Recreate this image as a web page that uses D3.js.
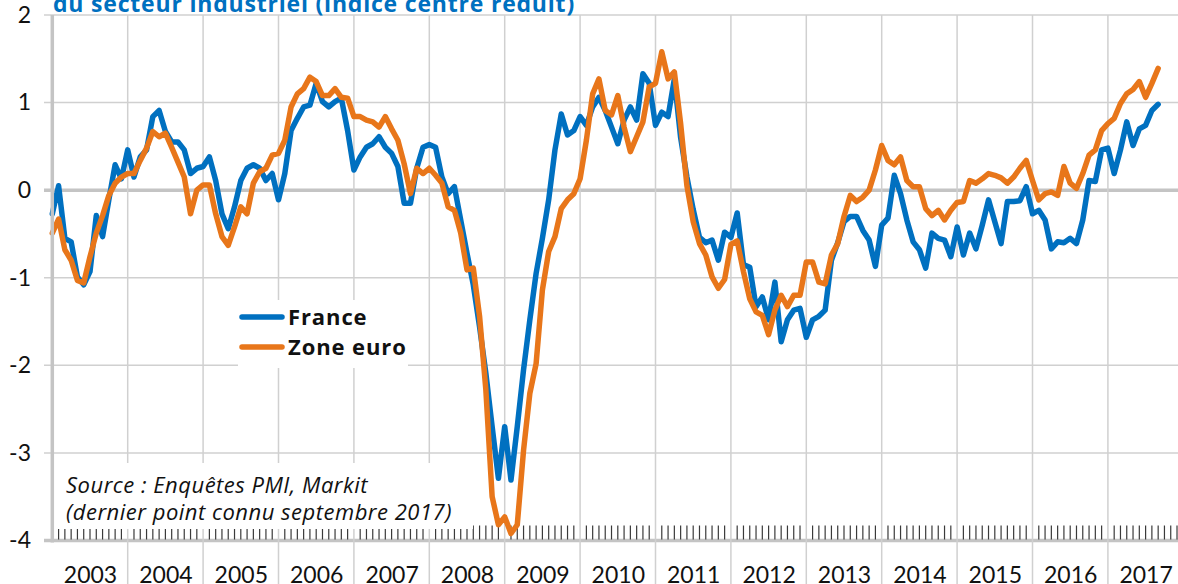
<!DOCTYPE html>
<html>
<head>
<meta charset="utf-8">
<script src="https://cdn.jsdelivr.net/npm/d3@7"></script>
<style>
body { margin: 0; background: #fff; }
svg { display: block; }
</style>
</head>
<body>
<div id="chart"></div>
<script>
// monthly values, janvier 2003 -> septembre 2017
var france = [
  -0.27, 0.05, -0.55, -0.59, -0.99, -1.08, -0.93, -0.29, -0.53, -0.11, 0.29, 0.13,
  0.46, 0.15, 0.38, 0.46, 0.84, 0.91, 0.67, 0.55, 0.55, 0.46, 0.19, 0.25,
  0.27, 0.38, 0.11, -0.27, -0.44, -0.19, 0.11, 0.25, 0.29, 0.25, 0.11, 0.19,
  -0.11, 0.19, 0.68, 0.82, 0.95, 0.97, 1.22, 1.01, 0.95, 1.01, 1.05, 0.68,
  0.23, 0.38, 0.49, 0.53, 0.61, 0.49, 0.42, 0.27, -0.15, -0.15, 0.25, 0.49,
  0.52, 0.49, 0.15, -0.04, 0.04, -0.34, -0.72, -1.08, -1.56, -2.09, -2.70, -3.29,
  -2.70, -3.31, -2.70, -2.05, -1.48, -0.95, -0.55, -0.11, 0.46, 0.87, 0.63, 0.68,
  0.84, 0.74, 0.95, 1.06, 0.91, 0.72, 0.53, 0.80, 0.95, 0.80, 1.33, 1.22,
  0.74, 0.89, 0.84, 1.27, 0.60, 0.15, -0.22, -0.54, -0.60, -0.57, -0.80, -0.48,
  -0.54, -0.26, -0.85, -0.88, -1.33, -1.22, -1.48, -1.05, -1.73, -1.48, -1.37, -1.35,
  -1.68, -1.48, -1.44, -1.37, -0.80, -0.60, -0.36, -0.30, -0.30, -0.46, -0.57, -0.87,
  -0.40, -0.32, 0.17, -0.04, -0.34, -0.59, -0.68, -0.89, -0.49, -0.55, -0.57, -0.76,
  -0.42, -0.74, -0.49, -0.67, -0.40, -0.11, -0.36, -0.61, -0.13, -0.13, -0.12, 0.04,
  -0.27, -0.23, -0.34, -0.67, -0.59, -0.60, -0.55, -0.61, -0.34, 0.11, 0.10, 0.46,
  0.48, 0.19, 0.46, 0.78, 0.51, 0.70, 0.74, 0.91, 0.98
];
var zoneEuro = [
  -0.49, -0.33, -0.68, -0.80, -1.03, -1.06, -0.76, -0.49, -0.29, -0.06, 0.08, 0.15,
  0.19, 0.19, 0.34, 0.48, 0.67, 0.61, 0.65, 0.49, 0.32, 0.15, -0.27, 0.00,
  0.06, 0.06, -0.27, -0.53, -0.63, -0.42, -0.19, -0.27, 0.08, 0.21, 0.25, 0.40,
  0.42, 0.57, 0.95, 1.10, 1.16, 1.29, 1.24, 1.08, 1.08, 1.16, 1.06, 1.05,
  0.84, 0.84, 0.80, 0.78, 0.72, 0.84, 0.70, 0.57, 0.30, -0.04, 0.25, 0.19,
  0.25, 0.17, 0.08, -0.19, -0.23, -0.49, -0.91, -0.89, -1.44, -2.28, -3.50, -3.82,
  -3.73, -3.92, -3.82, -2.97, -2.32, -1.98, -1.14, -0.70, -0.53, -0.21, -0.11, -0.04,
  0.13, 0.57, 1.10, 1.27, 0.91, 0.86, 1.08, 0.72, 0.44, 0.61, 0.78, 1.18,
  1.22, 1.58, 1.27, 1.35, 0.76, 0.05, -0.36, -0.61, -0.74, -0.99, -1.12, -1.02,
  -0.62, -0.58, -0.93, -1.24, -1.39, -1.43, -1.65, -1.37, -1.20, -1.33, -1.20, -1.20,
  -0.82, -0.82, -1.05, -1.07, -0.74, -0.61, -0.30, -0.06, -0.13, -0.08, 0.00, 0.23,
  0.51, 0.34, 0.29, 0.38, 0.11, 0.04, 0.04, -0.21, -0.29, -0.23, -0.34, -0.23,
  -0.14, -0.13, 0.11, 0.08, 0.13, 0.19, 0.17, 0.14, 0.08, 0.15, 0.25, 0.34,
  0.11, -0.11, -0.04, -0.02, -0.06, 0.27, 0.08, 0.02, 0.19, 0.40, 0.46, 0.68,
  0.76, 0.82, 0.99, 1.10, 1.15, 1.24, 1.06, 1.22, 1.39
];
var years = ["2003", "2004", "2005", "2006", "2007", "2008", "2009", "2010",
  "2011", "2012", "2013", "2014", "2015", "2016", "2017"];
var yTicks = [-4, -3, -2, -1, 0, 1, 2];

var width = 1178, height = 584;
var blue = "#0070c0", orange = "#e8761a";
var font = "Lato, 'Open Sans', sans-serif";
var font2 = "'Open Sans', Lato, sans-serif";

var svg = d3.select("#chart").append("svg")
  .attr("width", width)
  .attr("height", height);

var nMonths = years.length * 12;
var x = d3.scaleLinear().domain([0, nMonths]).range([52.3, 1183.3]);
var y = d3.scaleLinear().domain([-4, 2]).range([540.5, 15]);

// grille horizontale
svg.append("g").selectAll("line")
  .data(yTicks)
  .enter().append("line")
  .attr("x1", 44).attr("x2", width)
  .attr("y1", function(d) { return y(d); })
  .attr("y2", function(d) { return y(d); })
  .attr("stroke", function(d) { return (d == 0 || d == -4) ? "#c4c4c4" : "#d0d0d0"; })
  .attr("stroke-width", function(d) { return (d == 0 || d == -4) ? 3.5 : 1.5; });

// grille verticale (limites d'annees)
svg.append("g").selectAll("line")
  .data(d3.range(1, years.length + 1))
  .enter().append("line")
  .attr("x1", function(d) { return x(d * 12); })
  .attr("x2", function(d) { return x(d * 12); })
  .attr("y1", y(2)).attr("y2", height)
  .attr("stroke", "#d0d0d0")
  .attr("stroke-width", 1.5);

// petites graduations mensuelles
svg.append("g").selectAll("line")
  .data(d3.range(1, nMonths).filter(function(i) { return i % 12 != 0; }))
  .enter().append("line")
  .attr("x1", function(d) { return x(d); })
  .attr("x2", function(d) { return x(d); })
  .attr("y1", y(-4) - 15).attr("y2", y(-4) - 1)
  .attr("stroke", "#3a3a3a")
  .attr("stroke-width", 1.2);

// series
var line = d3.line()
  .x(function(d, i) { return x(i); })
  .y(function(d) { return y(d); });

[[france, blue], [zoneEuro, orange]].forEach(function(s) {
  svg.append("path")
    .datum(s[0])
    .attr("d", line)
    .attr("fill", "none")
    .attr("stroke", s[1])
    .attr("stroke-width", 5.5)
    .attr("stroke-linejoin", "round")
    .attr("stroke-linecap", "round");
});

// axe vertical
svg.append("line")
  .attr("x1", x(0)).attr("x2", x(0))
  .attr("y1", y(2)).attr("y2", y(-4) + 2)
  .attr("stroke", "#c4c4c4")
  .attr("stroke-width", 3.5);

var yAxis = svg.append("g")
  .attr("transform", "translate(31,0)")
  .call(d3.axisLeft(y).tickValues(yTicks).tickSize(0).tickPadding(0)
    .tickFormat(function(d) { return String(d); }));
yAxis.select(".domain").remove();
yAxis.selectAll("text")
  .style("font-family", font)
  .style("font-size", "23px")
  .attr("fill", "#111");

var xAxis = svg.append("g")
  .attr("transform", "translate(0," + y(-4) + ")")
  .call(d3.axisBottom(x)
    .tickValues(years.map(function(d, i) { return i * 12 + 6; }))
    .tickFormat(function(d, i) { return years[i]; })
    .tickSize(0).tickPadding(26));
xAxis.select(".domain").remove();
xAxis.selectAll("text")
  .style("font-family", font)
  .style("font-size", "23px")
  .attr("fill", "#111");

// titre (coupe en haut)
svg.append("text")
  .attr("x", 53).attr("y", 12)
  .attr("fill", blue)
  .style("font-family", font2)
  .style("font-weight", "bold")
  .style("font-size", "23px")
  .style("letter-spacing", "0.8px")
  .text("du secteur industriel (indice centré réduit)");

// source
svg.append("rect")
  .attr("x", 55).attr("y", 463)
  .attr("width", 418).attr("height", 66)
  .attr("fill", "#fff");
var src = svg.append("text")
  .style("font-family", font2)
  .style("font-style", "italic")
  .style("font-size", "22px")
  .style("letter-spacing", "0.5px")
  .attr("fill", "#111");
src.append("tspan").attr("x", 66).attr("y", 493).text("Source : Enquêtes PMI, Markit");
src.append("tspan").attr("x", 66).attr("y", 520).text("(dernier point connu septembre 2017)");

// legende
var legend = svg.append("g");
legend.append("rect")
  .attr("x", 238).attr("y", 300)
  .attr("width", 170).attr("height", 68)
  .attr("fill", "#fff");
var items = [["France", blue], ["Zone euro", orange]];
items.forEach(function(it, i) {
  var ly = 317 + i * 30;
  legend.append("line")
    .attr("x1", 242).attr("x2", 282)
    .attr("y1", ly).attr("y2", ly)
    .attr("stroke", it[1])
    .attr("stroke-width", 5.5)
    .attr("stroke-linecap", "round");
  legend.append("text")
    .attr("x", 288).attr("y", ly + 8)
    .style("font-family", font2)
    .style("font-weight", "bold")
    .style("font-size", "22px")
    .style("letter-spacing", "0.9px")
    .attr("fill", "#111")
    .text(it[0]);
});
</script>
</body>
</html>
